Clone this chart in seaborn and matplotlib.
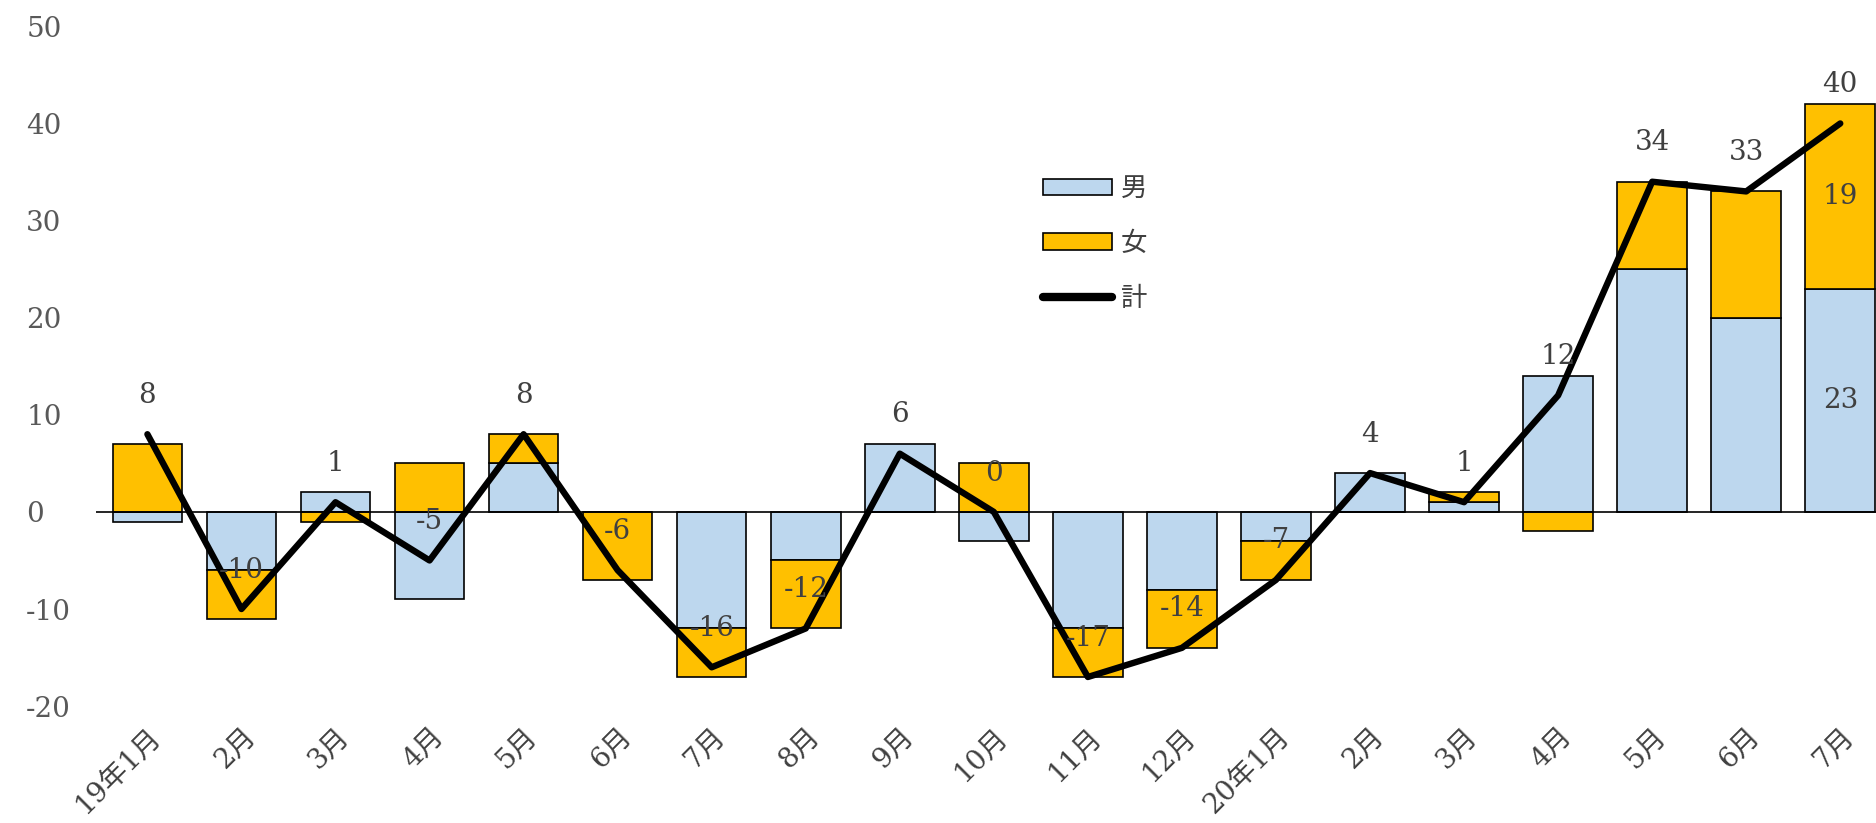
import matplotlib
matplotlib.use("Agg")
import matplotlib.pyplot as plt
from matplotlib.patches import Patch
from matplotlib.lines import Line2D
import numpy as np
import pandas as pd
import seaborn as sns

# Monthly change by sex (male / female) and total
months = ["19年1月", "2月", "3月", "4月", "5月", "6月", "7月", "8月", "9月", "10月",
          "11月", "12月", "20年1月", "2月", "3月", "4月", "5月", "6月", "7月"]
male = [-1, -6, 2, -9, 5, 0, -12, -5, 7, -3, -12, -8, -3, 4, 1, 14, 25, 20, 23]
female = [7, -5, -1, 5, 3, -7, -5, -7, 0, 5, -5, -6, -4, 0, 1, -2, 9, 13, 19]
total = [8, -10, 1, -5, 8, -6, -16, -12, 6, 0, -17, -14, -7, 4, 1, 12, 34, 33, 40]

MALE_C = "#BDD7EE"
FEMALE_C = "#FFC000"
TXT = "#404040"

sns.set_theme(style="white")
plt.rcParams["font.family"] = ["DejaVu Serif", "Noto Sans CJK JP"]
plt.rcParams["axes.unicode_minus"] = False

df = pd.DataFrame({"idx": np.arange(len(months)), "male": male,
                   "female": female, "total": total})
# female segment stacks on male when both share a sign, otherwise starts at zero
df["f_bottom"] = np.where(np.sign(df["female"]) == np.sign(df["male"]), df["male"], 0)

fig = plt.figure(figsize=(18.76, 8.23), dpi=100)
ax = fig.add_axes([0.051, 0.142, 0.949, 0.826])

sns.barplot(data=df, x="idx", y="male", color=MALE_C, saturation=1, width=0.74,
            edgecolor="black", linewidth=1.2, errorbar=None, ax=ax)
sns.barplot(data=df, x="idx", y="female", color=FEMALE_C, saturation=1, width=0.74,
            edgecolor="black", linewidth=1.2, errorbar=None, ax=ax,
            bottom=df["f_bottom"].to_numpy())
sns.lineplot(data=df, x="idx", y="total", color="black", linewidth=4.6, ax=ax,
             sort=False)

ax.axhline(0, color="black", linewidth=1.2, zorder=1.5)

FS = 20
# total labels above each point of the line
for i, v in enumerate(total):
    ax.annotate(str(v), (i, v), xytext=(0, 28), textcoords="offset points",
                ha="center", va="center", fontsize=FS, color=TXT)

# segment values on the latest month
last = len(months) - 1
ax.text(last, male[last] / 2, str(male[last]), ha="center", va="center",
        fontsize=FS, color=TXT)
ax.text(last, df["f_bottom"][last] + female[last] / 2, str(female[last]),
        ha="center", va="center", fontsize=FS, color=TXT)

ax.set_xlim(-0.55, 18.38)
ax.set_ylim(-20, 50)
ax.set_yticks(range(-20, 51, 10))
ax.set_xticks(range(len(months)))
ax.set_xticklabels(months, rotation=45, ha="right", rotation_mode="anchor")
ax.tick_params(axis="x", length=0, pad=12, labelsize=FS, labelcolor=TXT)
ax.tick_params(axis="y", length=0, pad=50, labelsize=FS, labelcolor="#595959")
for lab in ax.get_yticklabels():
    lab.set_horizontalalignment("left")
ax.set_xlabel("")
ax.set_ylabel("")
for s in ax.spines.values():
    s.set_visible(False)

handles = [Patch(facecolor=MALE_C, edgecolor="black", linewidth=1.2),
           Patch(facecolor=FEMALE_C, edgecolor="black", linewidth=1.2),
           Line2D([], [], color="black", linewidth=6, solid_capstyle="round")]
leg = ax.legend(handles, ["男", "女", "計"], loc="upper left",
                bbox_to_anchor=(1030 / 1876, 1 - 162 / 823),
                bbox_transform=fig.transFigure, frameon=False,
                fontsize=19, labelspacing=1.05, handlelength=2.6,
                handleheight=0.6, handletextpad=0.35, borderpad=0)
for t in leg.get_texts():
    t.set_color(TXT)
    t.set_family(["Noto Sans CJK JP"])

fig.savefig("out.png", dpi=100)
